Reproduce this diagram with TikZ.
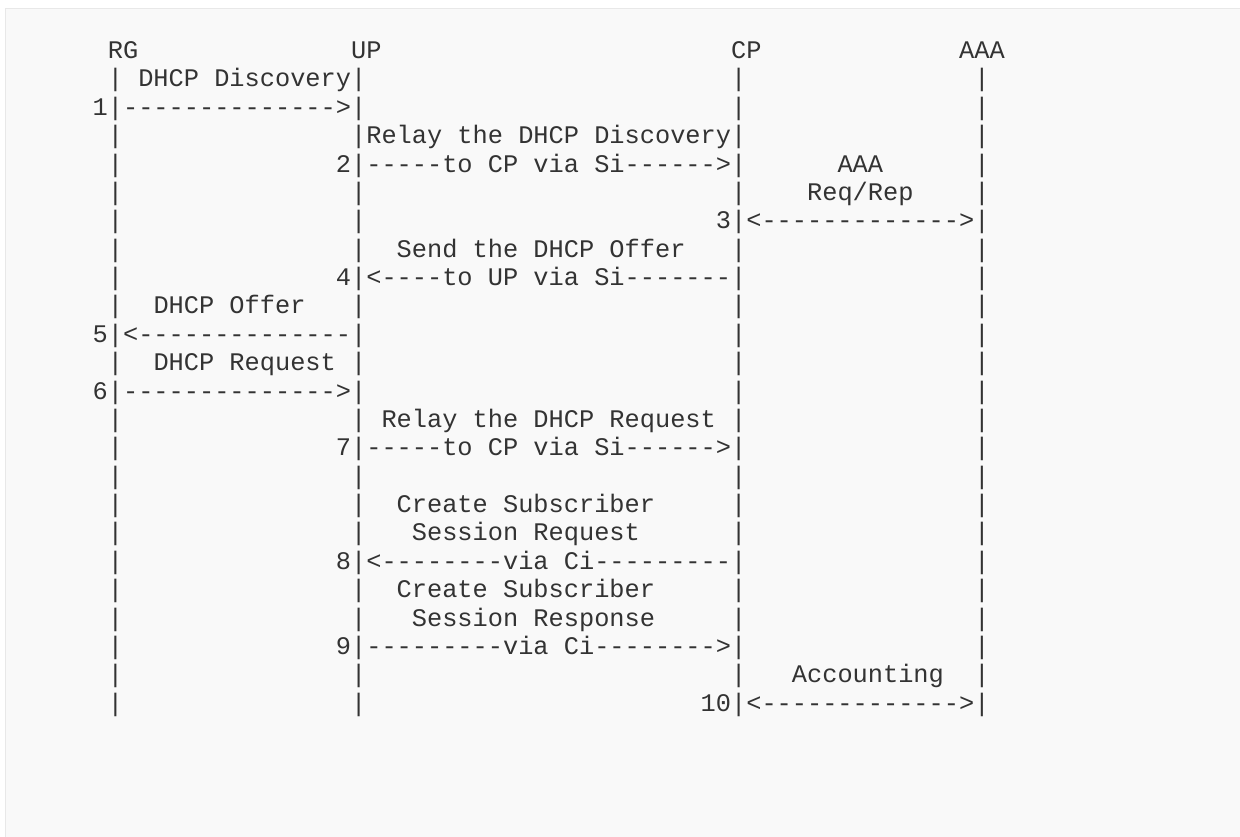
\documentclass[tikz,border=0pt]{standalone}
\usepackage{fontspec}
\setmonofont{Liberation Mono}
\definecolor{ink}{HTML}{333333}
\definecolor{panel}{HTML}{F9F9F9}
\definecolor{frame}{HTML}{E8E8E8}
\tikzset{
  mono/.style={font=\ttfamily\fontsize{25.33pt}{28pt}\selectfont, text=ink,
    inner sep=0pt, outer sep=0pt, anchor=base west},
}
\newcommand\txt[4]{\node[mono] (#1) at ({31.9pt+#3*15.2pt}, {-58.5pt-(#2-1)*28.38pt}) {#4};}
\begin{document}
\begin{tikzpicture}
\useasboundingbox (0pt,0pt) rectangle (1240pt,-837pt);
\clip (0pt,0pt) rectangle (1240pt,-837pt);
\fill[white] (0pt,0pt) rectangle (1240pt,-837pt);
\draw[fill=panel, draw=frame, line width=1.5pt] (5.5pt,-8.5pt) rectangle (1260pt,-860pt);
% lifelines
\foreach \r in {2,...,24}{
  \foreach \c/\n in {5/rg,21/up,46/cp,62/aaa}{
    \node[mono] (\n-\r) at ({31.9pt+\c*15.2pt}, {-58.5pt-(\r-1)*28.38pt}) {|};
  }
}
% headers
\txt{hRG}{1}{5}{RG}
\txt{hUP}{1}{21}{UP}
\txt{hCP}{1}{46}{CP}
\txt{hAAA}{1}{61}{AAA}
% messages
\txt{l2}{2}{7}{DHCP Discovery}
\txt{n1}{3}{4}{1}
\txt{a1}{3}{6}{-------------->}
\txt{l4}{4}{22}{Relay the DHCP Discovery}
\txt{n2}{5}{20}{2}
\txt{a2}{5}{22}{-----to CP via Si------>}
\txt{l5}{5}{53}{AAA}
\txt{l6}{6}{51}{Req/Rep}
\txt{n3}{7}{45}{3}
\txt{a3}{7}{47}{<------------->}
\txt{l8}{8}{24}{Send the DHCP Offer}
\txt{n4}{9}{20}{4}
\txt{a4}{9}{22}{<----to UP via Si-------}
\txt{l10}{10}{8}{DHCP Offer}
\txt{n5}{11}{4}{5}
\txt{a5}{11}{6}{<--------------}
\txt{l12}{12}{8}{DHCP Request}
\txt{n6}{13}{4}{6}
\txt{a6}{13}{6}{-------------->}
\txt{l14}{14}{23}{Relay the DHCP Request}
\txt{n7}{15}{20}{7}
\txt{a7}{15}{22}{-----to CP via Si------>}
\txt{l17}{17}{24}{Create Subscriber}
\txt{l18}{18}{25}{Session Request}
\txt{n8}{19}{20}{8}
\txt{a8}{19}{22}{<--------via Ci---------}
\txt{l20}{20}{24}{Create Subscriber}
\txt{l21}{21}{25}{Session Response}
\txt{n9}{22}{20}{9}
\txt{a9}{22}{22}{---------via Ci-------->}
\txt{l23}{23}{50}{Accounting}
\txt{n10}{24}{44}{10}
\txt{a10}{24}{47}{<------------->}
\end{tikzpicture}
\end{document}
